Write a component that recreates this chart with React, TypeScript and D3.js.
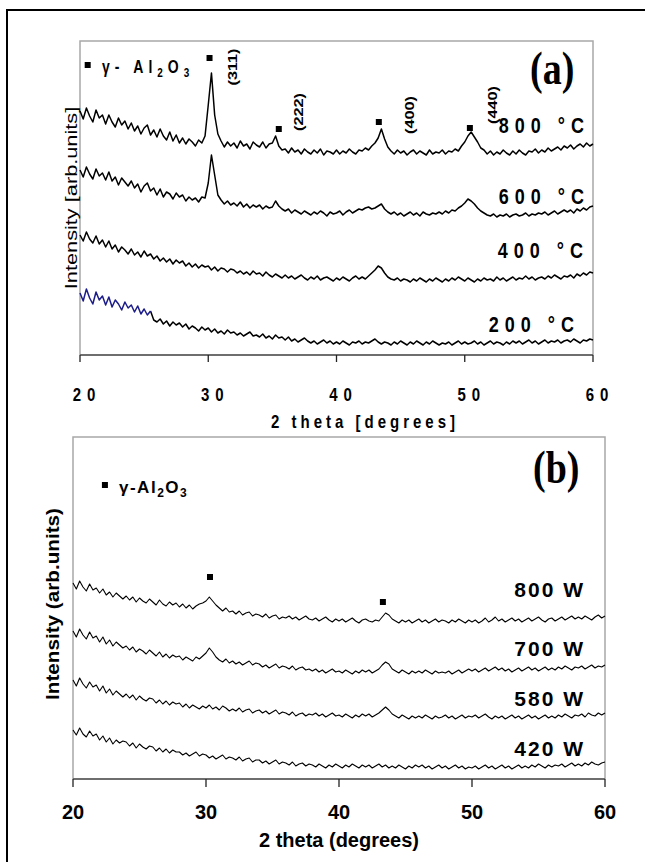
import React from 'react';
import * as d3 from 'd3';

// scan step of the diffractometer (degrees 2θ)
const STEP = 0.25;
const X_TICKS = [20, 30, 40, 50, 60];

// ---- panel (a): calcination temperature, 20..60 deg
const a800 = [
  244, 236, 247, 239, 233, 245, 237, 240,
  231, 240, 233, 228, 237, 230, 234, 226,
  232, 224, 229, 221, 227, 230, 220, 225,
  218, 226, 219, 215, 223, 214, 220, 212,
  217, 211, 216, 213, 209, 215, 212, 219,
  250, 282, 240, 221, 214, 208, 213, 209,
  212, 207, 214, 209, 211, 206, 213, 210,
  208, 213, 207, 211, 212, 219, 209, 205,
  206, 202, 207, 203, 205, 201, 206, 203,
  201, 205, 202, 206, 200, 204, 203, 201,
  205, 201, 204, 202, 206, 203, 201, 205,
  204, 207, 205, 209, 212, 217, 226, 216,
  208, 204, 201, 205, 202, 204, 200, 203,
  205, 201, 204, 202, 200, 205, 201, 203,
  202, 205, 201, 204, 203, 206, 204, 209,
  213, 219, 223, 218, 213, 207, 205, 201,
  204, 200, 203, 201, 205, 202, 200, 204,
  201, 205, 202, 200, 204, 203, 206, 202,
  205, 203, 207, 204, 206, 208, 205, 209,
  207, 210, 206, 209, 211, 208, 212, 209,
  211,
];
const a600 = [
  185, 178, 188, 181, 176, 186, 179, 182,
  175, 183, 174, 178, 170, 177, 173, 169,
  174, 167, 171, 163, 169, 172, 164, 167,
  160, 166, 158, 163, 161, 156, 162, 158,
  160, 154, 158, 155, 157, 153, 158, 157,
  172, 200, 180, 160, 155, 151, 154, 150,
  152, 149, 153, 148, 151, 147, 150, 148,
  150, 146, 149, 147, 148, 154, 149, 146,
  144, 146, 142, 145, 143, 141, 144, 142,
  140, 143, 141, 144, 142, 139, 143, 141,
  142, 144, 140, 143, 145, 142, 144, 146,
  145, 147, 148, 146, 147, 149, 151, 146,
  143, 141, 143, 140, 142, 139, 141, 143,
  140, 142, 139, 143, 141, 140, 142, 141,
  143, 141, 144, 142, 145, 144, 147, 149,
  152, 156, 154, 151, 147, 144, 142, 140,
  139, 141, 138, 140, 139, 141, 138, 140,
  141, 139, 140, 142, 139, 141, 140, 142,
  141, 143, 140, 142, 144, 141, 143, 145,
  143, 145, 142, 146, 144, 147, 145, 148,
  149,
];
const a400 = [
  120, 114, 123, 116, 112, 119, 111, 115,
  108, 114, 106, 110, 103, 108, 105, 101,
  106, 100, 103, 98, 104, 99, 101, 96,
  99, 94, 97, 93, 96, 91, 95, 92,
  94, 89, 92, 88, 91, 87, 90, 88,
  89, 85, 88, 84, 87, 86, 83, 86,
  85, 82, 84, 81, 83, 80, 84, 81,
  82, 79, 83, 80, 78, 81, 79, 77,
  80, 77, 79, 76, 78, 80, 77, 75,
  78, 76, 79, 75, 77, 78, 76, 74,
  77, 75, 78, 76, 74, 77, 79, 76,
  78, 76, 79, 82, 85, 89, 87, 82,
  78, 76, 75, 77, 74, 76, 75, 73,
  76, 74, 77, 75, 73, 76, 74, 77,
  75, 73, 76, 74, 77, 75, 78, 76,
  74, 77, 75, 73, 76, 74, 77, 75,
  76, 74, 78, 75, 77, 74, 76, 78,
  75, 77, 76, 79, 76, 78, 75, 77,
  78, 76, 79, 77, 80, 78, 76, 79,
  78, 80, 77, 81, 79, 82, 80, 83,
  82,
];
// 200 °C: first part (20..25.5) plotted in blue, rest (25.5..60) in black
const a200Blue = [
  62, 54, 66, 57, 51, 63, 55, 59,
  50, 58, 48, 55, 51, 45, 53, 47,
  50, 43, 49, 41, 46, 40, 44,
];
const a200 = [
  44, 35,
  33, 36, 31, 34, 29, 33, 30, 32,
  28, 31, 26, 29, 27, 24, 28, 25,
  27, 23, 26, 22, 24, 21, 25, 22,
  23, 20, 22, 19, 21, 23, 19, 20,
  18, 21, 17, 19, 16, 20, 17, 18,
  15, 18, 14, 16, 13, 15, 17, 14,
  12, 14, 11, 13, 15, 12, 14, 11,
  13, 11, 14, 12, 10, 13, 12, 14,
  11, 13, 12, 14, 16, 13, 11, 13,
  12, 10, 13, 11, 14, 12, 10, 13,
  11, 14, 12, 10, 13, 11, 14, 12,
  10, 12, 11, 13, 10, 12, 14, 11,
  13, 11, 12, 14, 11, 13, 10, 12,
  14, 11, 13, 12, 10, 13, 11, 14,
  12, 14, 11, 13, 15, 12, 14, 11,
  13, 15, 12, 14, 13, 15, 12, 14,
  15, 13, 16, 14, 12, 15, 14, 16,
  15,
];

// ---- panel (b): microwave power, 20..60 deg
const b800 = [
  196, 190, 198, 192, 188, 195, 189, 191,
  186, 190, 184, 187, 182, 186, 183, 180,
  183, 179, 182, 177, 181, 178, 176, 180,
  177, 174, 179, 175, 173, 177, 174, 176,
  172, 175, 171, 174, 170, 173, 175, 176,
  178, 182, 178, 174, 171, 168, 171, 167,
  168, 165, 168, 164, 166, 167, 163, 165,
  164, 162, 165, 161, 163, 164, 160, 162,
  161, 163, 160, 162, 159, 161, 163, 160,
  159, 161, 158, 160, 162, 159, 157, 160,
  158, 160, 157, 159, 161, 158, 156, 159,
  160, 158, 157, 159, 158, 162, 166, 164,
  160, 158, 156, 159, 157, 159, 156, 158,
  160, 157, 159, 156, 158, 160, 157, 159,
  158, 156, 159, 157, 160, 158, 156, 159,
  157, 159, 156, 158, 161, 157, 159, 162,
  158, 160, 157, 159, 161, 158, 160, 157,
  159, 161, 158, 160, 162, 159, 157, 160,
  161, 158, 160, 162, 159, 161, 163, 160,
  162, 160, 163, 161, 159, 162, 164, 161,
  163,
];
const b700 = [
  148, 142, 150, 144, 140, 147, 141, 143,
  137, 142, 135, 139, 133, 137, 134, 131,
  133, 129, 132, 127, 130, 128, 125, 129,
  126, 123, 127, 122, 125, 121, 124, 122,
  123, 119, 122, 120, 118, 122, 120, 123,
  126, 131, 127, 122, 119, 117, 120, 116,
  118, 115, 117, 114, 116, 118, 114, 116,
  115, 112, 114, 111, 113, 115, 111, 113,
  112, 110, 113, 109, 111, 112, 109, 110,
  108, 110, 107, 109, 106, 108, 110, 107,
  108, 106, 109, 107, 105, 108, 106, 109,
  107, 109, 106, 108, 110, 114, 117, 115,
  110, 108, 106, 109, 107, 105, 108, 106,
  108, 106, 109, 107, 105, 108, 106, 107,
  106, 108, 105, 107, 109, 106, 108, 110,
  108, 110, 107, 109, 111, 108, 110, 112,
  109, 111, 108, 110, 107, 109, 111, 108,
  110, 112, 109, 111, 108, 110, 112, 109,
  111, 109, 112, 110, 113, 111, 109, 112,
  111, 113, 110, 112, 114, 111, 113, 112,
  114,
];
const b580 = [
  99, 93, 101, 95, 91, 97, 92, 94,
  88, 93, 86, 90, 84, 88, 85, 82,
  85, 81, 84, 79, 83, 80, 78, 81,
  80, 76, 79, 75, 78, 74, 77, 75,
  76, 72, 75, 71, 74, 72, 70, 73,
  71, 74, 70, 72, 69, 73, 71, 68,
  70, 68, 71, 67, 69, 70, 66, 68,
  69, 66, 68, 65, 67, 69, 65, 67,
  66, 64, 67, 63, 65, 66, 63, 65,
  64, 66, 63, 65, 62, 64, 66, 63,
  64, 62, 65, 63, 61, 64, 62, 65,
  63, 65, 62, 64, 66, 69, 72, 69,
  65, 63, 61, 64, 62, 60, 63, 61,
  63, 61, 64, 62, 60, 63, 61, 62,
  64, 61, 63, 60, 62, 64, 61, 63,
  62, 64, 61, 63, 65, 62, 60, 63,
  61, 63, 60, 62, 64, 61, 63, 60,
  62, 64, 61, 63, 60, 62, 64, 61,
  63, 61, 64, 62, 65, 63, 61, 64,
  63, 65, 62, 66, 64, 63, 66, 64,
  66,
];
const b420 = [
  49, 44, 51, 45, 42, 48, 43, 45,
  39, 43, 37, 41, 35, 39, 36, 38,
  37, 33, 36, 31, 35, 32, 30, 33,
  32, 28, 31, 27, 30, 26, 29, 27,
  27, 24, 26, 23, 25, 27, 23, 25,
  24, 21, 23, 20, 22, 24, 20, 22,
  21, 19, 22, 18, 20, 21, 17, 19,
  19, 16, 18, 15, 17, 19, 15, 17,
  16, 14, 17, 13, 15, 16, 13, 15,
  14, 12, 15, 13, 11, 14, 12, 15,
  13, 11, 14, 12, 15, 13, 11, 14,
  12, 14, 11, 13, 15, 12, 14, 11,
  13, 11, 14, 12, 10, 13, 11, 14,
  12, 14, 11, 13, 10, 12, 14, 11,
  13, 10, 12, 14, 11, 13, 10, 12,
  11, 13, 10, 12, 14, 11, 13, 10,
  12, 14, 11, 13, 10, 12, 14, 11,
  13, 11, 14, 12, 15, 13, 11, 14,
  12, 14, 13, 15, 12, 14, 16, 13,
  15, 13, 16, 14, 17, 15, 14, 16,
  17,
];

const tempLabels = ['800 °C', '600 °C', '400 °C', '200 °C'];
const powerLabels = ['800 W', '700 W', '580 W', '420 W'];
// gamma-Al2O3 reflections marked in (a): [2θ, marker height]
const peaksA = [[30.1, 297], [35.5, 226], [43.3, 233], [50.4, 227]];
const hklA = ['(311)', '(222)', '(400)', '(440)'];
const peaksB = [[30.3, 202], [43.3, 177]];

const SANS = "'Liberation Sans', Arial, Helvetica, sans-serif";
const SERIF = "'Liberation Serif', 'Times New Roman', serif";

function trace(values: number[], start: number, x: any, y: any) {
  const line = d3.line<number>()
    .x((_, i) => x(start + i * STEP))
    .y(v => y(v));
  return line(values) || '';
}

export default function App() {
  const xA = d3.scaleLinear().domain([20, 60]).range([80, 593]);
  const yA = d3.scaleLinear().domain([0, 314]).range([355, 41]);
  const xB = d3.scaleLinear().domain([20, 60]).range([73, 605]);
  const yB = d3.scaleLinear().domain([0, 342]).range([779, 437]);

  const seriesA = [a800, a600, a400];
  const labelA = [[584, 133], [584, 204], [583, 258], [574, 332]];
  const hklPos = [[237, 67], [303, 112], [414, 115], [497, 105]];
  const seriesB = [b800, b700, b580, b420];
  const labelB = [597, 656, 706, 756];

  return (
    <svg width={645} height={862} style={{ position: 'absolute', left: 0, top: 0, background: '#fff' }}>
      <rect x={7} y={10} width={700} height={900} fill="none" stroke="#000" strokeWidth={2} />

      {/* ---------- panel (a) ---------- */}
      <g>
        <path d={`M${xA(20)},${yA(0)}V${yA(314)}H${xA(60)}V${yA(0)}`} fill="none" stroke="#a8a8a8" strokeWidth={1.5} />
        <line x1={xA(20)} x2={xA(60)} y1={yA(0)} y2={yA(0)} stroke="#6e6e6e" strokeWidth={2} />
        {X_TICKS.map(t => (
          <g key={t}>
            <line x1={xA(t)} x2={xA(t)} y1={yA(0)} y2={yA(0) + 7} stroke="#222" strokeWidth={1.3} />
            <text transform={`translate(${xA(t) + 7},401) scale(1,1.25)`} textAnchor="middle"
              fontFamily={SANS} fontWeight="bold" fontSize={15} letterSpacing={6}>{t}</text>
          </g>
        ))}
        <text transform="translate(365,428) scale(1,1.25)" textAnchor="middle" fontFamily={SANS}
          fontWeight="bold" fontSize={15} letterSpacing={4}>2 theta [degrees]</text>
        <text transform="translate(77,198) rotate(-90) scale(1.36,1)" textAnchor="middle"
          fontFamily={SANS} fontSize={16}>Intensity [arb.units]</text>

        {seriesA.map((s, i) => (
          <path key={i} d={trace(s, 20, xA, yA)} fill="none" stroke="#000" strokeWidth={1.5} strokeLinejoin="round" />
        ))}
        <path d={trace(a200, 25.5, xA, yA)} fill="none" stroke="#000" strokeWidth={1.5} strokeLinejoin="round" />
        <path d={trace(a200Blue, 20, xA, yA)} fill="none" stroke="#1c1c8a" strokeWidth={1.5} strokeLinejoin="round" />

        {peaksA.map(([t, v], i) => (
          <rect key={i} x={xA(t) - 3} y={yA(v) - 3} width={6} height={6} fill="#000" />
        ))}
        {hklA.map((h, i) => (
          <text key={h} transform={`translate(${hklPos[i][0]},${hklPos[i][1]}) rotate(-90) scale(1.25,1)`}
            textAnchor="middle" fontFamily={SANS} fontWeight="bold" fontSize={13}>{h}</text>
        ))}
        {tempLabels.map((l, i) => (
          <text key={l} transform={`translate(${labelA[i][0] + 6},${labelA[i][1]}) scale(1,1.25)`}
            textAnchor="end" fontFamily={SANS} fontWeight="bold" fontSize={18} letterSpacing={6}>{l}</text>
        ))}

        <rect x={xA(20.6) - 3} y={yA(290) - 3} width={6} height={6} fill="#000" />
        <text transform="translate(102,73) scale(1,1.25)" fontFamily={SANS} fontWeight="bold" fontSize={14} letterSpacing={5}>
          γ- Al<tspan fontSize={10} dy={3}>2</tspan><tspan dy={-3}>O</tspan><tspan fontSize={10} dy={3}>3</tspan>
        </text>
        <text transform="translate(530,84) scale(1,1.2)" fontFamily={SERIF} fontWeight="bold" fontSize={38}>(a)</text>
      </g>

      {/* ---------- panel (b) ---------- */}
      <g>
        <path d={`M${xB(20)},${yB(0)}V${yB(342)}H${xB(60)}V${yB(0)}`} fill="none" stroke="#a8a8a8" strokeWidth={1.5} />
        <line x1={xB(20)} x2={xB(60)} y1={yB(0)} y2={yB(0)} stroke="#6e6e6e" strokeWidth={2} />
        {X_TICKS.map(t => (
          <g key={t}>
            <line x1={xB(t)} x2={xB(t)} y1={yB(0)} y2={yB(0) + 8} stroke="#222" strokeWidth={1.3} />
            <text x={xB(t)} y={819} textAnchor="middle" fontFamily={SANS} fontWeight="bold" fontSize={20}>{t}</text>
          </g>
        ))}
        <text x={339} y={847} textAnchor="middle" fontFamily={SANS} fontWeight="bold" fontSize={20}>2 theta (degrees)</text>
        <text transform="translate(59,604) rotate(-90) scale(1.15,1)" textAnchor="middle"
          fontFamily={SANS} fontWeight="bold" fontSize={18}>Intensity (arb.units)</text>

        {seriesB.map((s, i) => (
          <path key={i} d={trace(s, 20, xB, yB)} fill="none" stroke="#000" strokeWidth={1.1} strokeLinejoin="round" />
        ))}
        {peaksB.map(([t, v], i) => (
          <rect key={i} x={xB(t) - 3} y={yB(v) - 3} width={6} height={6} fill="#000" />
        ))}
        {powerLabels.map((l, i) => (
          <text key={l} x={585} y={labelB[i]} textAnchor="end" fontFamily={SANS} fontWeight="bold"
            fontSize={21} letterSpacing={2}>{l}</text>
        ))}

        <rect x={xB(22.4) - 3} y={yB(294) - 3} width={6} height={6} fill="#000" />
        <text x={119} y={493} fontFamily={SANS} fontWeight="bold" fontSize={17} letterSpacing={1.5}>
          γ-Al<tspan fontSize={12} dy={4}>2</tspan><tspan dy={-4}>O</tspan><tspan fontSize={12} dy={4}>3</tspan>
        </text>
        <text transform="translate(533,483) scale(1,1.2)" fontFamily={SERIF} fontWeight="bold" fontSize={38}>(b)</text>
      </g>
    </svg>
  );
}
